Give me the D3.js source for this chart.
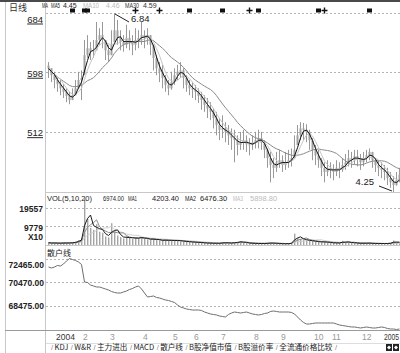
<!DOCTYPE html>
<html><head><meta charset="utf-8">
<script src="https://cdn.jsdelivr.net/npm/d3@7"></script>
<style>
html,body{margin:0;padding:0;background:#fff;}
svg{display:block;}
text{font-family:"Liberation Sans",Arial,sans-serif;}
.cjk{font-family:"Noto Sans CJK SC",sans-serif;}
</style></head><body>
<svg id="c" width="400" height="353"></svg>
<script>
// ---------------- data ----------------
const openP = [
6.08,6.04,5.94,5.87,5.81,5.75,5.70,5.64,5.58,5.65,
5.75,5.87,5.95,6.23,6.33,6.28,6.30,6.45,6.52,6.48,
6.30,6.23,6.38,6.59,6.48,6.42,6.38,6.48,6.42,6.38,
6.45,6.48,6.52,6.48,6.52,6.38,6.19,6.04,5.99,5.90,
5.80,5.75,5.84,5.94,5.99,6.01,5.90,5.80,5.75,5.73,
5.70,5.64,5.58,5.51,5.46,5.41,5.32,5.22,5.15,5.17,
5.12,5.07,5.03,5.00,4.93,4.97,5.00,4.94,4.93,4.96,
5.00,5.03,4.97,4.86,4.74,4.64,4.60,4.68,4.71,4.64,
4.68,4.71,4.74,4.86,5.07,5.17,5.15,5.12,5.00,4.86,
4.78,4.71,4.60,4.54,4.60,4.57,4.54,4.60,4.57,4.64,
4.68,4.74,4.71,4.77,4.74,4.68,4.74,4.78,4.83,4.71,
4.64,4.60,4.57,4.54,4.45,4.39,4.35,4.42];
const highP = [
6.13,6.04,5.99,5.90,5.87,5.81,5.75,5.70,5.75,5.87,
5.99,6.01,6.45,6.52,6.42,6.45,6.71,6.62,6.71,6.45,
6.38,6.59,6.84,6.74,6.59,6.52,6.67,6.59,6.52,6.62,
6.59,6.71,6.59,6.62,6.52,6.38,6.23,6.13,6.09,5.94,
5.87,5.99,6.04,6.09,6.13,6.04,5.94,5.87,5.84,5.80,
5.75,5.70,5.65,5.61,5.55,5.46,5.41,5.32,5.36,5.26,
5.22,5.17,5.15,5.07,5.12,5.15,5.07,5.03,5.07,5.12,
5.15,5.12,5.00,4.88,4.83,4.74,4.83,4.86,4.78,4.83,
4.86,4.88,5.07,5.22,5.26,5.25,5.23,5.15,5.03,4.93,
4.86,4.74,4.68,4.71,4.68,4.65,4.71,4.68,4.74,4.80,
4.86,4.83,4.86,4.86,4.80,4.83,4.86,4.88,4.83,4.74,
4.71,4.68,4.64,4.60,4.54,4.48,4.54,4.60];
const lowP = [
5.90,5.84,5.75,5.70,5.65,5.61,5.55,5.52,5.58,5.65,
5.75,5.58,5.94,6.19,6.16,6.19,6.30,6.38,6.33,6.16,
6.13,6.23,6.42,6.38,6.30,6.28,6.33,6.30,6.23,6.30,
6.33,6.38,6.33,6.38,6.23,6.01,5.94,5.84,5.75,5.70,
5.65,5.73,5.80,5.87,5.90,5.75,5.70,5.65,5.61,5.58,
5.54,5.44,5.41,5.32,5.29,5.17,5.07,5.00,5.03,4.97,
4.93,4.86,4.68,4.78,4.86,4.86,4.83,4.78,4.86,4.88,
4.88,4.86,4.74,4.60,4.39,4.45,4.54,4.60,4.54,4.57,
4.60,4.62,4.74,4.93,5.00,5.00,4.97,4.86,4.71,4.64,
4.60,4.48,4.39,4.48,4.45,4.42,4.48,4.45,4.54,4.57,
4.62,4.60,4.65,4.62,4.57,4.62,4.68,4.71,4.60,4.54,
4.48,4.45,4.42,4.35,4.31,4.25,4.34,4.39];
const closeP = [
6.04,5.94,5.87,5.81,5.75,5.70,5.64,5.58,5.65,5.75,
5.87,5.90,6.23,6.33,6.28,6.30,6.45,6.52,6.48,6.30,
6.23,6.38,6.59,6.48,6.42,6.38,6.48,6.42,6.38,6.45,
6.48,6.52,6.48,6.52,6.38,6.19,6.04,5.99,5.90,5.80,
5.75,5.84,5.94,5.99,6.01,5.90,5.80,5.75,5.73,5.70,
5.64,5.58,5.51,5.46,5.41,5.32,5.22,5.15,5.17,5.12,
5.07,5.03,5.00,4.93,4.97,5.00,4.94,4.93,4.96,5.00,
5.03,4.97,4.86,4.74,4.64,4.60,4.68,4.71,4.64,4.68,
4.71,4.74,4.86,5.07,5.17,5.15,5.12,5.00,4.86,4.78,
4.71,4.60,4.54,4.60,4.57,4.54,4.60,4.57,4.64,4.68,
4.74,4.71,4.77,4.74,4.68,4.74,4.78,4.83,4.71,4.64,
4.60,4.57,4.54,4.45,4.39,4.35,4.42,4.50];
const volume = [
1200,900,1100,1000,800,1300,1100,900,1400,1800,
2500,3500,24500,14000,9000,8000,11000,7000,6500,4500,
4000,11500,7500,5000,4200,3500,4500,3800,3200,4000,
3600,4200,3300,3000,2800,3400,2600,2500,2300,2800,
2400,2200,2600,2300,2000,1900,1700,1600,1500,1400,
1300,1200,1000,900,1100,800,900,1000,1400,1200,
900,1000,1600,1500,2000,1200,1000,900,800,900,
700,800,900,1000,1200,900,700,800,600,700,
800,1200,6000,3800,3200,2800,2500,2200,2000,1800,
1600,1500,1800,1300,1100,1000,1200,1000,2200,1400,
1400,1200,1000,900,800,1100,900,1000,800,700,
900,800,700,900,1100,2400,1200,900];
const retail = [
71743,71659,71743,71871,71828,71998,72253,72465,72380,72295,
72168,71956,70470,70428,70215,70131,70046,70046,69961,69876,
69791,69664,69579,69536,69536,69621,69706,69833,69918,70046,
70131,69876,69536,69197,69239,69282,69154,69112,69027,68942,
68900,68815,68730,68518,68348,68263,68178,68136,68093,68093,
68093,68051,67923,67838,67754,67711,67669,67584,67541,67499,
67711,67838,67923,67881,67838,67881,67923,67838,67754,67711,
67669,67711,67796,67838,67966,68008,67966,67923,67923,67923,
67923,67881,67754,67499,67244,67035,66905,66905,66947,66990,
66990,66990,66990,66990,66990,66990,66905,66820,66777,66735,
66692,66650,66650,66607,66565,66607,66650,66607,66565,66565,
66607,66650,66607,66522,66480,66480,66437,66480];
const monthLabels = ["2004","2","3","4","5","6","7","8","9","10","11","12","2005"];
const monthStart = [2,11,20,31,41,48,57,68,77,88,94,104,112];
const markerIdx = [8,12,13,29,37,47,58,67,70,90,92,107];
const markerType = ["sq","sq","sq","cross","cross","sq","sq","cross","sq","sq","cross","sq"];
const priceTicks = [5.12, 5.98, 6.84];
const volTicks = [9779, 19557];
const retailTicks = [68475, 70470, 72465];
const priceMAWindows = [3, 5, 14];
const volMAWindows = [3, 5, 10];
const priceHeader = ["MA", "MA5", "4.45", "MA10", "4.46", "MA30", "4.59"];
const volHeader = ["VOL(5,10,20)", "6974.00", "MA1", "4203.40", "MA2", "6476.30", "MA3", "5898.80"];
const tabs = ["KDJ","W&R","主力进出","MACD","散户线","B股净值市值","B股溢价率","全流通价格比较"];

// ---------------- drawing ----------------
const N = closeP.length;
const svg = d3.select("#c");
const x = d3.scaleLinear().domain([0, N - 1]).range([48, 399]);
const yP = d3.scaleLinear().domain([4.25, 6.84]).range([192, 13]);
const yV = d3.scaleLinear().domain([0, 19557]).range([245, 208]);
const yR = d3.scaleLinear().domain([68475, 72465]).range([305.5, 258.5]);
const ma = (arr, n) => arr.map((d, i) => d3.mean(arr.slice(Math.max(0, i - n + 1), i + 1)));
const idx = d3.range(N);

function hline(x1, x2, y, c) {
  svg.append("line").attr("x1", x1).attr("x2", x2).attr("y1", y).attr("y2", y)
    .attr("stroke", c).attr("shape-rendering", "crispEdges");
}
function vline(xx, y1, y2, c) {
  svg.append("line").attr("x1", xx).attr("x2", xx).attr("y1", y1).attr("y2", y2)
    .attr("stroke", c).attr("shape-rendering", "crispEdges");
}
// text squeezed horizontally into a given width (like the narrow bitmap font of the picture)
function narrowText(t, x0, y0, w, size, col) {
  const g = svg.append("g");
  const tx = g.append("text").attr("font-size", size).attr("fill", col).text(t);
  const nat = tx.node().getComputedTextLength();
  g.attr("transform", `translate(${x0},${y0}) scale(${Math.min(1, w / nat)},1)`);
  return g;
}

// frame
svg.append("rect").attr("x", 0).attr("y", 0).attr("width", 400).attr("height", 2).attr("fill", "#4a4a4a");
vline(5.5, 2, 353, "#c8c8c8");
vline(45.5, 2, 353, "#c8c8c8");
hline(46, 400, 192.5, "#c8c8c8");
hline(46, 400, 245.5, "#c8c8c8");
hline(5, 400, 330.5, "#9a9a9a");
hline(46, 400, 343.5, "#dddddd");

// grids
const grid = svg.append("g").attr("stroke", "#b4b4b4").attr("stroke-dasharray", "2,2")
  .attr("shape-rendering", "crispEdges");
const gridRows = [].concat(priceTicks.map(d => yP(d)), volTicks.map(d => yV(d)), retailTicks.map(d => yR(d)));
grid.selectAll("line").data(gridRows).join("line")
  .attr("x1", 46).attr("x2", 400)
  .attr("y1", d => Math.round(d) + 0.5).attr("y2", d => Math.round(d) + 0.5);

// axes
const axP = svg.append("g").attr("transform", "translate(46,0)")
  .call(d3.axisLeft(yP).tickValues(priceTicks).tickSize(0).tickPadding(3)
    .tickFormat(d => Math.round(d * 100)));
axP.select(".domain").remove();
axP.selectAll("text").attr("font-size", 9.5).attr("fill", "#222")
  .attr("font-family", "Liberation Sans, Arial, sans-serif")
  .attr("text-decoration", "underline")
  .attr("dy", d => d === 6.84 ? "0.95em" : "0.4em");

const axV = svg.append("g").attr("transform", "translate(46,0)")
  .call(d3.axisLeft(yV).tickValues(volTicks).tickSize(0).tickPadding(3).tickFormat(d3.format("d")));
axV.select(".domain").remove();
axV.selectAll("text").attr("font-size", 8.5).attr("font-weight", "bold").attr("fill", "#222")
  .attr("font-family", "Liberation Sans, Arial, sans-serif").attr("dy", "0.45em");
svg.append("text").attr("x", 43).attr("y", 240).attr("text-anchor", "end")
  .attr("font-size", 8.5).attr("font-weight", "bold").attr("fill", "#222").text("X10");

const axR = svg.append("g").attr("transform", "translate(45,0)")
  .call(d3.axisLeft(yR).tickValues(retailTicks).tickSize(0).tickPadding(1)
    .tickFormat(d3.format(".2f")));
axR.select(".domain").remove();
axR.selectAll("text").attr("font-size", 8.5).attr("font-weight", "bold").attr("fill", "#222")
  .attr("font-family", "Liberation Sans, Arial, sans-serif")
  .attr("dy", d => d === 72465 ? "1.05em" : "0.4em");

// candles
const cg = svg.append("g");
cg.selectAll("line").data(idx).join("line")
  .attr("x1", i => x(i) + 0.5).attr("x2", i => x(i) + 0.5)
  .attr("y1", i => yP(highP[i])).attr("y2", i => yP(lowP[i]))
  .attr("stroke", "#999");
cg.selectAll("rect").data(idx).join("rect")
  .attr("x", i => x(i) - 0.5).attr("width", 2)
  .attr("y", i => yP(Math.min(highP[i], Math.max(openP[i], closeP[i]))))
  .attr("height", i => Math.max(1, yP(Math.max(lowP[i], Math.min(openP[i], closeP[i]))) - yP(Math.min(highP[i], Math.max(openP[i], closeP[i])))))
  .attr("fill", "#a0a0a0");

// price MAs
const pline = d3.line().x((d, i) => x(i) + 0.5).y(d => yP(d));
const maColors = ["#111", "#c6c6c6", "#8a8a8a"];
[2, 1, 0].forEach(k => {
  svg.append("path").datum(ma(closeP, priceMAWindows[k])).attr("d", pline)
    .attr("fill", "none").attr("stroke", maColors[k]).attr("stroke-width", 1);
});

// volume bars
svg.append("g").selectAll("rect").data(idx).join("rect")
  .attr("x", i => x(i)).attr("width", 1.4)
  .attr("y", i => yV(volume[i])).attr("height", i => 245 - yV(volume[i]))
  .attr("fill", "#a4a4a4");
const vline2 = d3.line().x((d, i) => x(i) + 0.5).y(d => yV(d));
const vmaColors = ["#1a1a1a", "#8a8a8a", "#cfcfcf"];
[2, 1, 0].forEach(k => {
  svg.append("path").datum(ma(volume, volMAWindows[k])).attr("d", vline2)
    .attr("fill", "none").attr("stroke", vmaColors[k]).attr("stroke-width", 1);
});

// retail line
svg.append("path").datum(retail)
  .attr("d", d3.line().x((d, i) => x(i) + 0.5).y(d => yR(d)))
  .attr("fill", "none").attr("stroke", "#6e6e6e").attr("stroke-width", 1);

// markers
const mg = svg.append("g");
markerIdx.forEach((m, k) => {
  const cx = Math.round(x(m)) + 0.5;
  if (markerType[k] === "sq") {
    mg.append("rect").attr("x", cx - 2.5).attr("y", 8.5).attr("width", 5).attr("height", 4).attr("fill", "#111");
  } else {
    mg.append("path").attr("d", `M${cx - 3},10.5H${cx + 3}M${cx},7.5V13.5`).attr("stroke", "#111").attr("stroke-width", 1.4);
  }
});

// high / low annotations
const hiI = d3.maxIndex(highP), loI = d3.minIndex(lowP);
const hx = x(hiI) + 1, hy = yP(highP[hiI]);
svg.append("line").attr("x1", hx).attr("y1", hy + 1).attr("x2", hx + 14).attr("y2", hy + 9).attr("stroke", "#222");
svg.append("text").attr("x", hx + 16).attr("y", hy + 9).attr("font-size", 9.5).attr("fill", "#222").text(highP[hiI].toFixed(2));
const lx = x(loI), ly = yP(lowP[loI]);
svg.append("line").attr("x1", lx - 1).attr("y1", ly - 1).attr("x2", lx - 14).attr("y2", ly - 6).attr("stroke", "#222");
svg.append("text").attr("x", lx - 19).attr("y", ly - 7).attr("text-anchor", "end").attr("font-size", 9.5).attr("fill", "#222").text(lowP[loI].toFixed(2));

// header texts
svg.append("text").attr("class", "cjk").attr("x", 9).attr("y", 11).attr("font-size", 9).attr("fill", "#333").text("日线");
const hdrPos = [[42, 6], [51, 9], [63, 14], [83, 16], [106, 15], [125, 14], [143, 15]];
const hdrCol = ["#222", "#222", "#222", "#bbb", "#bbb", "#333", "#333"];
priceHeader.forEach((t, k) => narrowText(t, hdrPos[k][0], 7.5, hdrPos[k][1], 7, hdrCol[k]));
const vhPos = [[47, 46], [103, 21], [128, 9], [152, 27], [185, 11], [200, 28], [233, 10], [250, 28]];
const vhCol = ["#222", "#222", "#222", "#222", "#222", "#222", "#bbb", "#bbb"];
volHeader.forEach((t, k) => narrowText(t, vhPos[k][0], 201, vhPos[k][1], 7.5, vhCol[k]));
svg.append("text").attr("class", "cjk").attr("x", 47).attr("y", 256).attr("font-size", 8).attr("fill", "#222").text("散户线");

// x labels
monthLabels.forEach((d, k) => {
  const last = k === monthLabels.length - 1;
  narrowText(d, x(monthStart[k]) + (last ? 0 : 2), 340, last ? 15 : 40, 8.5, d.length === 4 ? "#333" : "#999");
});

// tabs
let cx = 51;
const tg = svg.append("g");
tabs.forEach(t => {
  tg.append("text").attr("x", cx).attr("y", 350).attr("font-size", 7.5).attr("fill", "#888").text("/");
  cx += 3.5;
  const tt = tg.append("text").attr("class", "cjk").attr("x", cx).attr("y", 350)
    .attr("font-size", 7.6).attr("fill", "#222").text(t);
  cx += tt.node().getComputedTextLength() + 2.5;
});
tg.append("text").attr("x", cx).attr("y", 350).attr("font-size", 7.5).attr("fill", "#888").text("/");
[386, 393].forEach(bx => {
  svg.append("rect").attr("x", bx).attr("y", 344).attr("width", 6).attr("height", 7).attr("fill", "#222");
  svg.append("path").attr("d", `M${bx + 3},345.5L${bx + 5},347.5L${bx + 3},349.5L${bx + 1},347.5Z`).attr("fill", "#fff");
});
</script>
</body></html>
